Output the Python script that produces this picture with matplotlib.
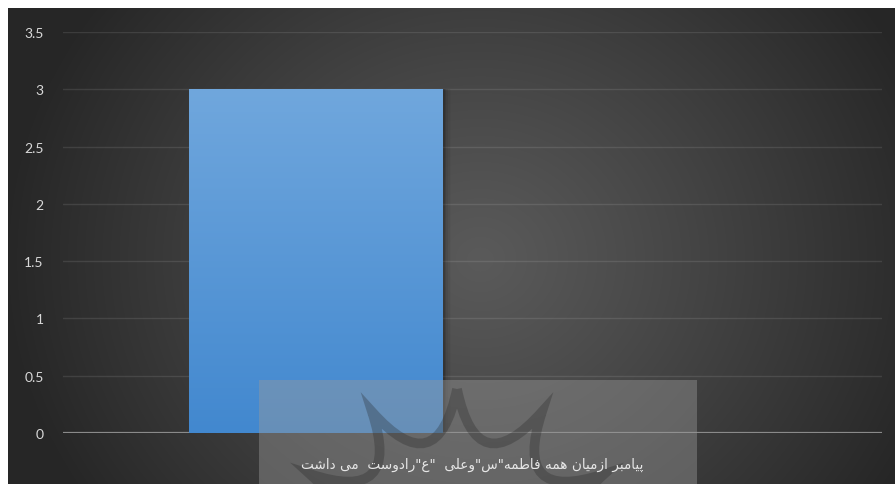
import numpy as np
import matplotlib
matplotlib.use("Agg")
import matplotlib.pyplot as plt
from matplotlib.patches import Rectangle
from matplotlib.path import Path
from matplotlib.patches import PathPatch

# data
categories = ['پیامبر ازمیان همه فاطمه"س"وعلی  "ع"رادوست  می داشت']
series_values = [3]
y_ticks = [0, 0.5, 1, 1.5, 2, 2.5, 3, 3.5]
y_tick_labels = ["0", "0.5", "1", "1.5", "2", "2.5", "3", "3.5"]

# simple Persian shaping (matplotlib has no RTL / contextual forms)
FORMS = {
    "ا": (0xFE8D, 0xFE8E, None, None),
    "ب": (0xFE8F, 0xFE90, 0xFE91, 0xFE92),
    "پ": (0xFB56, 0xFB57, 0xFB58, 0xFB59),
    "ت": (0xFE95, 0xFE96, 0xFE97, 0xFE98),
    "د": (0xFEA9, 0xFEAA, None, None),
    "ر": (0xFEAD, 0xFEAE, None, None),
    "ز": (0xFEAF, 0xFEB0, None, None),
    "س": (0xFEB1, 0xFEB2, 0xFEB3, 0xFEB4),
    "ش": (0xFEB5, 0xFEB6, 0xFEB7, 0xFEB8),
    "ط": (0xFEC1, 0xFEC2, 0xFEC3, 0xFEC4),
    "ع": (0xFEC9, 0xFECA, 0xFECB, 0xFECC),
    "ف": (0xFED1, 0xFED2, 0xFED3, 0xFED4),
    "ل": (0xFEDD, 0xFEDE, 0xFEDF, 0xFEE0),
    "م": (0xFEE1, 0xFEE2, 0xFEE3, 0xFEE4),
    "ن": (0xFEE5, 0xFEE6, 0xFEE7, 0xFEE8),
    "ه": (0xFEE9, 0xFEEA, 0xFEEB, 0xFEEC),
    "و": (0xFEED, 0xFEEE, None, None),
    "ی": (0xFBFC, 0xFBFD, 0xFBFE, 0xFBFF),
}


def shape(txt):
    out = []
    for i, ch in enumerate(txt):
        if ch not in FORMS:
            out.append(ch)
            continue
        prev = txt[i - 1] if i > 0 else ""
        nxt = txt[i + 1] if i + 1 < len(txt) else ""
        iso, fin, ini, med = FORMS[ch]
        join_prev = prev in FORMS and FORMS[prev][2] is not None
        join_next = ini is not None and nxt in FORMS
        if join_prev and join_next:
            c = med
        elif join_prev:
            c = fin
        elif join_next:
            c = ini
        else:
            c = iso
        out.append(chr(c))
    return "".join(out)[::-1]


W, H = 896, 485
fig = plt.figure(figsize=(W / 100, H / 100), dpi=100)
fig.patch.set_facecolor("white")

# radial background
bg = fig.add_axes([8 / W, 0, 1 - 9 / W, 1 - 9 / H], zorder=-5)
bg.set_axis_off()
yy, xx = np.mgrid[9:H, 8:W - 1]
d = np.sqrt((xx - 480.0) ** 2 + ((yy - 260.0) * 1.1) ** 2)
v = 90 - 52 * np.clip(d / 480.0, 0, 1) ** 1.1
bg.imshow(np.dstack([v, v, v]) / 255.0, aspect="auto", interpolation="bilinear")

ax = fig.add_axes([63 / W, 51 / H, 819 / W, 401 / H])
ax.patch.set_alpha(0)
ax.set_xlim(-0.5, 0.5)
ax.set_ylim(0, 3.5)

ax.set_yticks(y_ticks)
ax.set_yticklabels(y_tick_labels)
ax.tick_params(axis="y", length=0, pad=14, labelcolor="#d9d9d9", labelsize=10)
ax.set_xticks([])
for lab in ax.get_yticklabels():
    lab.set_family(["Lato", "DejaVu Sans"])
for s in ax.spines.values():
    s.set_visible(False)
ax.grid(axis="y", color="white", alpha=0.1, linewidth=1)
ax.set_axisbelow(True)
ax.axhline(0, color="#8a8a8a", linewidth=1.6, zorder=2)

# bar with gradient and soft shadow
bar_x = -0.191
bar_w = 0.31
for k, a in enumerate([0.12, 0.09, 0.06, 0.04, 0.02]):
    ax.bar(bar_x + 0.002 * (k + 1), series_values[0], width=bar_w, color="black",
           alpha=a, zorder=2.5, linewidth=0)
bars = ax.bar(bar_x, series_values, width=bar_w, color="#5b9bd5", zorder=3, linewidth=0)
top = np.array([0x70, 0xA7, 0xDD]) / 255
bot = np.array([0x42, 0x88, 0xCF]) / 255
t = np.linspace(0, 1, 256)[:, None]
grad = (top * (1 - t) + bot * t)[:, None, :]
b = bars[0]
im = ax.imshow(grad, extent=[b.get_x(), b.get_x() + b.get_width(), 0, series_values[0]],
               aspect="auto", zorder=3.1, interpolation="bilinear")
im.set_clip_path(b)
ax.set_xlim(-0.5, 0.5)
ax.set_ylim(0, 3.5)

# translucent label box (watermark) at bottom
ov = fig.add_axes([0, 0, 1, 1], zorder=5)
ov.set_xlim(0, W)
ov.set_ylim(H, 0)
ov.set_axis_off()
ov.patch.set_alpha(0)
ov.add_patch(Rectangle((259, 381), 438, 110, facecolor="#9a9a9a", alpha=0.42, linewidth=0))

# 12-point concave star watermark
cx, cy, R = 457, 560, 170
verts, codes = [], []
n = 12
for i in range(n):
    a0 = np.deg2rad(90 + i * 360 / n)
    a1 = np.deg2rad(90 + (i + 1) * 360 / n)
    p0 = (cx + R * np.cos(a0), cy - R * np.sin(a0))
    p1 = (cx + R * np.cos(a1), cy - R * np.sin(a1))
    am = (a0 + a1) / 2
    ctrl = (cx + 0.45 * R * np.cos(am), cy - 0.45 * R * np.sin(am))
    if i == 0:
        verts.append(p0)
        codes.append(Path.MOVETO)
    verts += [ctrl, p1]
    codes += [Path.CURVE3, Path.CURVE3]
ov.add_patch(PathPatch(Path(verts, codes), facecolor="none", edgecolor="#202020",
                       alpha=0.28, linewidth=7, joinstyle="miter"))

ov.text(472, 465, shape(categories[0]), ha="center", va="center", color="#e6e6e6",
        fontsize=9.8, family=["DejaVu Sans"])

fig.savefig("out.png", dpi=100, facecolor="white")
